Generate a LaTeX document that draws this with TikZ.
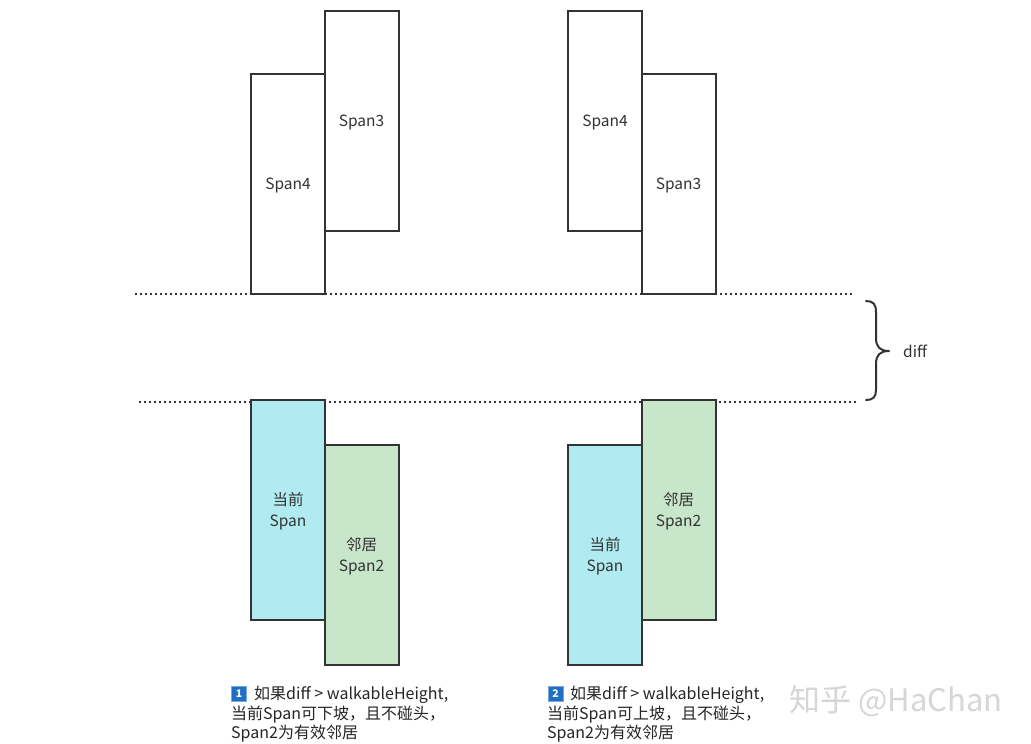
\documentclass[tikz,border=0pt]{standalone}
\usepackage{fontspec}
\setmainfont{Noto Sans CJK SC}
\usetikzlibrary{positioning}
\definecolor{edge}{HTML}{333333}
\definecolor{cyanfill}{HTML}{B1EBF2}
\definecolor{greenfill}{HTML}{C8E6C9}
\definecolor{badge}{HTML}{1F6FC5}
\begin{document}
\begin{tikzpicture}[x=1pt,y=-1pt,
  spanbox/.style={draw=edge,line width=2pt,inner sep=0pt,minimum width=74pt,minimum height=220pt,align=center,font=\fontsize{15.5}{20.5}\selectfont,text=edge,text depth=1pt},
  curbox/.style={spanbox,fill=cyanfill},
  nbbox/.style={spanbox,fill=greenfill},
  dotline/.style={draw=edge,line width=2pt,dash pattern=on 2pt off 3pt},
  bracestyle/.style={draw=edge,line width=2pt,line cap=round,line join=round},
  capt/.style={anchor=north west,align=left,inner sep=0pt,font=\fontsize{16}{19.5}\selectfont,text=black!85},
  numbadge/.style={fill=badge,draw=badge!60,line width=0.6pt,text=white,minimum size=15pt,inner sep=0pt,font=\fontsize{10.5}{10.5}\selectfont\bfseries}
]
\useasboundingbox (0,0) rectangle (1031,744);
\fill[white] (0,0) rectangle (1031,744);
% top-left pair
\node[spanbox] (s4a) at (288,184) {Span4};
\node[spanbox] (s3a) at (361.5,121) {Span3};
% top-right pair
\node[spanbox] (s4b) at (605,121) {Span4};
\node[spanbox] (s3b) at (678.5,184) {Span3};
% dotted lines
\coordinate (d1a) at (135,294);
\coordinate (d1b) at (852,294);
\coordinate (d2a) at (139,401.5);
\coordinate (d2b) at (857,401.5);
\draw[dotline] (d1a) -- (d1b);
\draw[dotline] (d2a) -- (d2b);
% bottom-left pair
\node[curbox] (cura) at (288,510) {当前\\Span};
\node[nbbox] (nba) at (361.5,555) {邻居\\Span2};
% bottom-right pair
\node[curbox] (curb) at (605,555) {当前\\Span};
\node[nbbox] (nbb) at (678.5,510) {邻居\\Span2};
% brace
\coordinate (bt) at (866,301);
\coordinate (bb) at (866,400);
\coordinate (btip) at (889,351);
\draw[bracestyle] (bt) .. controls (873,301) and (876,304) .. (876,312)
  -- (876,338) .. controls (876,347) and (880,351) .. (btip)
  .. controls (880,351) and (876,355) .. (876,364)
  -- (876,390) .. controls (876,397) and (873,400) .. (bb);
\node[anchor=west,inner sep=0pt,font=\fontsize{15.5}{18}\selectfont,text=edge] (difflbl) at (903,351) {diff};
% captions
\node[numbadge] (b1) at (239,694) {1};
\node[capt] (c1) at (231,686) {\hspace{23pt}如果diff > walkableHeight,\\当前Span可下坡，且不碰头，\\Span2为有效邻居};
\node[numbadge] (b2) at (555.5,694) {2};
\node[capt] (c2) at (547,686) {\hspace{23pt}如果diff > walkableHeight,\\当前Span可上坡，且不碰头，\\Span2为有效邻居};
% watermark
\node[anchor=west,inner sep=0pt,font=\fontsize{31}{31}\selectfont,text=black!16] (wm) at (789,701) {知乎 @HaChan};
\end{tikzpicture}
\end{document}
